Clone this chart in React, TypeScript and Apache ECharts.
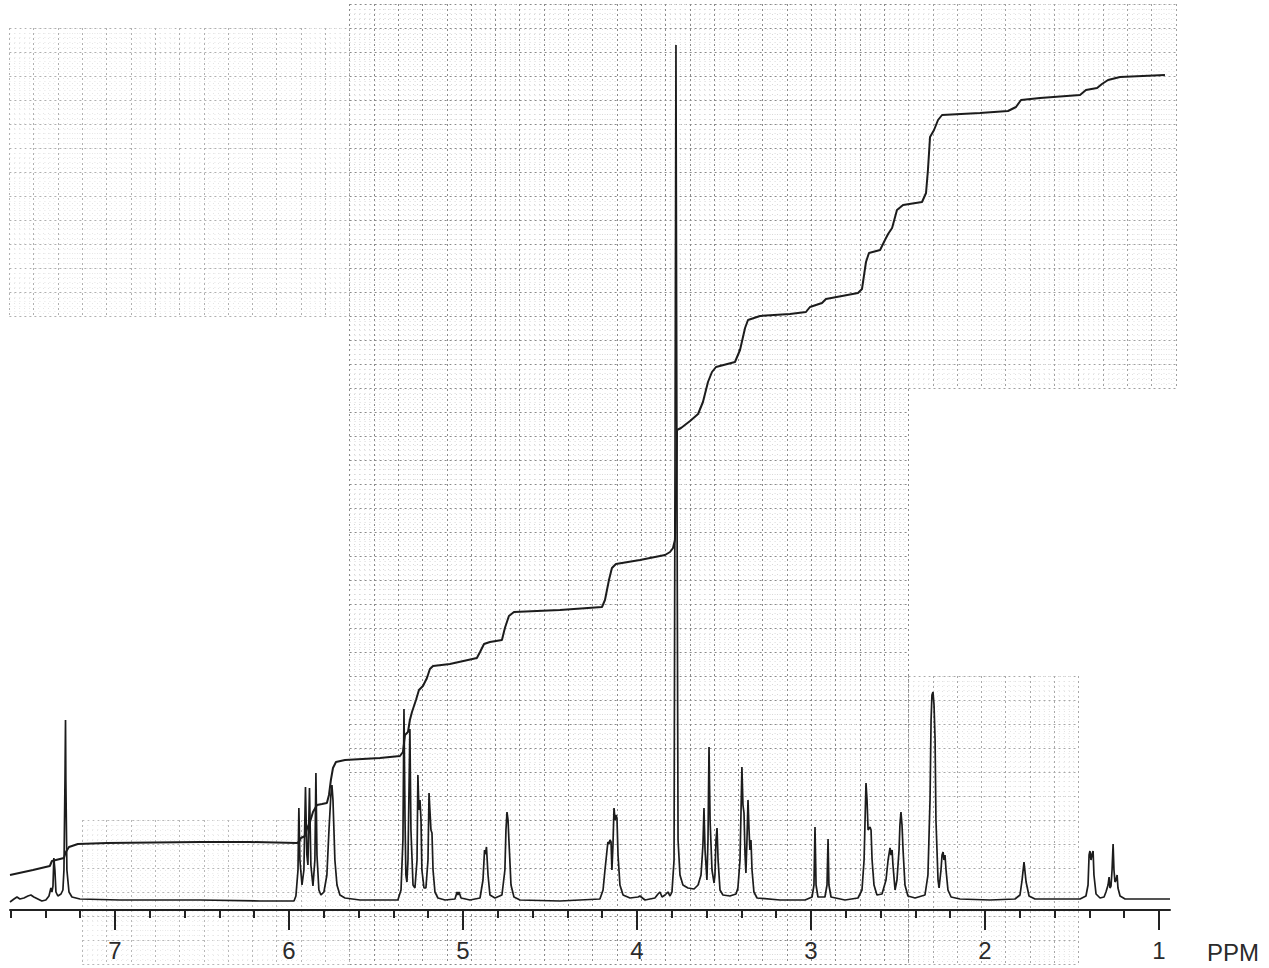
import React, { useEffect, useRef } from "react";
import * as echarts from "echarts";

// Chemical shift range of the recorder chart (ppm, high field on the right)
const PPM_MIN = 0.937;
const PPM_MAX = 7.603;

// Tick positions along the ppm scale
const minorTicks = [7.6, 7.4, 7.2, 7.0, 6.8, 6.6, 6.4, 6.2, 6.0, 5.8, 5.6, 5.4, 5.2, 5.0, 4.8, 4.6, 4.4, 4.2, 4.0, 3.8, 3.6, 3.4, 3.2, 3.0, 2.8, 2.6, 2.4, 2.2, 2.0, 1.8, 1.6, 1.4, 1.2, 1.0];
const majorTicks = [7, 6, 5, 4, 3, 2, 1];

// Spectrum trace, [ppm, intensity], grouped by region
const aromatic = [
  [7.603, -2], [7.58, 1], [7.563, 3], [7.546, 1], [7.523, 2], [7.5, 4], [7.483, 5], [7.466, 3], [7.443, 1],
  [7.42, -1], [7.397, 0], [7.379, 4], [7.368, 12], [7.362, 8], [7.356, 14], [7.351, 42], [7.345, 30],
  [7.339, 8], [7.328, 4], [7.31, 6], [7.299, 10], [7.293, 30], [7.287, 120], [7.284, 180], [7.282, 120],
  [7.276, 30], [7.264, 8], [7.247, 3], [7.201, 1], [6.971, 0], [6.511, 0], [6.167, -1], [5.971, -1],
];
const olefinic = [
  [5.96, 4], [5.948, 30], [5.943, 92], [5.937, 40], [5.925, 15], [5.914, 30], [5.905, 113], [5.897, 45],
  [5.891, 35], [5.882, 112], [5.874, 35], [5.862, 14], [5.851, 40], [5.845, 127], [5.839, 45], [5.828, 10],
  [5.816, 5], [5.799, 8], [5.782, 25], [5.77, 70], [5.759, 105], [5.753, 115], [5.747, 100], [5.736, 40],
  [5.724, 15], [5.707, 5], [5.678, 2], [5.592, 0],
  [5.374, 0], [5.356, 10], [5.345, 60], [5.339, 191], [5.333, 80], [5.328, 25], [5.322, 18], [5.316, 40],
  [5.305, 171], [5.299, 70], [5.287, 15], [5.276, 12], [5.264, 40], [5.259, 125], [5.253, 90], [5.247, 100],
  [5.241, 80], [5.236, 30], [5.224, 12], [5.213, 12], [5.201, 40], [5.195, 107], [5.19, 90], [5.184, 70],
  [5.178, 67], [5.172, 30], [5.161, 8], [5.144, 2], [5.103, 0], [5.046, 1], [5.034, 8], [5.029, 5],
  [5.023, 8], [5.011, 2], [4.96, 0],
];
const midField = [
  [4.902, 2], [4.885, 20], [4.876, 50], [4.871, 46], [4.865, 53], [4.856, 25], [4.845, 5], [4.816, 2],
  [4.776, 5], [4.759, 30], [4.753, 70], [4.747, 88], [4.741, 80], [4.736, 60], [4.724, 15], [4.707, 3],
  [4.672, 0], [4.443, -1],
  [4.213, 1], [4.195, 10], [4.184, 30], [4.172, 50], [4.167, 58], [4.161, 56], [4.155, 60], [4.149, 58],
  [4.144, 30], [4.138, 55], [4.132, 92], [4.126, 80], [4.121, 85], [4.115, 82], [4.109, 45], [4.098, 15],
  [4.08, 5], [4.04, 2], [3.994, 3], [3.983, 4], [3.954, 0], [3.897, 2], [3.879, 6], [3.868, 8], [3.856, 3],
  [3.839, 5], [3.822, 8], [3.81, 4], [3.799, 8], [3.787, 40], [3.782, 400], [3.776, 855], [3.77, 400],
  [3.764, 60], [3.753, 25], [3.736, 15], [3.707, 12], [3.672, 11],
  [3.649, 15], [3.632, 25], [3.621, 55], [3.615, 92], [3.609, 50], [3.598, 20], [3.592, 60], [3.586, 153],
  [3.58, 80], [3.569, 30], [3.557, 17], [3.552, 25], [3.546, 60], [3.54, 72], [3.534, 40], [3.523, 10],
  [3.506, 5], [3.466, 4], [3.431, 6], [3.42, 12], [3.408, 40], [3.402, 90], [3.397, 133], [3.391, 95],
  [3.385, 87], [3.379, 45], [3.374, 27], [3.368, 60], [3.362, 100], [3.356, 70], [3.351, 50], [3.345, 60],
  [3.339, 30], [3.328, 8], [3.31, 2], [3.178, 0],
];
const highField = [
  [3.034, 0], [2.994, 3], [2.983, 15], [2.977, 73], [2.971, 15], [2.96, 3], [2.92, 3], [2.908, 15],
  [2.902, 61], [2.897, 15], [2.885, 3], [2.805, 0], [2.73, 2], [2.707, 10], [2.695, 40], [2.684, 117],
  [2.678, 100], [2.672, 70], [2.661, 73], [2.655, 70], [2.649, 40], [2.638, 15], [2.621, 5], [2.592, 6],
  [2.569, 20], [2.557, 40], [2.546, 52], [2.54, 45], [2.534, 50], [2.529, 35], [2.517, 10], [2.506, 20],
  [2.494, 50], [2.489, 75], [2.483, 88], [2.477, 75], [2.471, 50], [2.46, 15], [2.443, 4], [2.402, 2],
  [2.345, 5], [2.328, 25], [2.316, 100], [2.31, 180], [2.305, 205], [2.299, 208], [2.293, 195], [2.287, 160],
  [2.282, 80], [2.27, 20], [2.264, 12], [2.253, 30], [2.247, 45], [2.241, 48], [2.236, 40], [2.23, 45],
  [2.224, 30], [2.213, 10], [2.195, 3], [2.144, 1],
  [1.971, 0], [1.828, 1], [1.799, 5], [1.787, 20], [1.776, 38], [1.764, 18], [1.747, 4], [1.713, 1],
  [1.454, 1], [1.42, 4], [1.408, 15], [1.402, 45], [1.397, 49], [1.391, 40], [1.385, 46], [1.379, 49],
  [1.374, 25], [1.362, 6], [1.339, 2], [1.316, 3], [1.305, 8], [1.293, 15], [1.287, 23], [1.282, 12],
  [1.276, 14], [1.27, 30], [1.264, 56], [1.259, 30], [1.253, 18], [1.247, 20], [1.241, 25], [1.236, 12],
  [1.224, 4], [1.195, 1], [0.937, 1],
];

// Integral trace, [ppm, height]
const integral = [
  [7.603, 25], [7.471, 30], [7.374, 34], [7.362, 39], [7.293, 42], [7.282, 48], [7.264, 53], [7.213, 56],
  [7.046, 57], [6.511, 58], [6.224, 58], [5.954, 57], [5.943, 58], [5.931, 62], [5.908, 64], [5.897, 71],
  [5.879, 78], [5.862, 88], [5.839, 95], [5.81, 96], [5.782, 97], [5.77, 105], [5.759, 120], [5.747, 132],
  [5.73, 138], [5.678, 140], [5.477, 142], [5.362, 144], [5.345, 148], [5.333, 165], [5.316, 168],
  [5.305, 180], [5.293, 188], [5.27, 200], [5.253, 210], [5.23, 214], [5.207, 222], [5.19, 231],
  [5.172, 234], [5.075, 236], [4.92, 242], [4.902, 248], [4.879, 256], [4.845, 258], [4.776, 260],
  [4.759, 272], [4.736, 284], [4.707, 288], [4.443, 290], [4.201, 293], [4.184, 300], [4.161, 320],
  [4.144, 332], [4.121, 336], [3.983, 340], [3.839, 345], [3.81, 348], [3.793, 352], [3.782, 360],
  [3.776, 400], [3.77, 470], [3.747, 472], [3.695, 479], [3.649, 486], [3.621, 498], [3.592, 518],
  [3.569, 528], [3.546, 533], [3.437, 538], [3.408, 550], [3.379, 572], [3.362, 580], [3.293, 584],
  [3.121, 586], [3.029, 588], [3.006, 593], [2.937, 597], [2.914, 601], [2.73, 607], [2.707, 611],
  [2.684, 638], [2.667, 647], [2.603, 650], [2.575, 660], [2.557, 666], [2.534, 672], [2.506, 690],
  [2.471, 695], [2.362, 698], [2.339, 707], [2.328, 730], [2.316, 763], [2.293, 770], [2.27, 780],
  [2.247, 785], [2.029, 787], [1.868, 789], [1.822, 793], [1.793, 800], [1.684, 802], [1.454, 805],
  [1.42, 810], [1.356, 812], [1.328, 816], [1.293, 820], [1.224, 823], [0.966, 825],
];

const INK = "#1c1c1c";
const CELL_X = 24.3;
const CELL_Y = 24;

// One patch of printed chart-paper ruling, drawn as the split lines of a hidden grid
function paperPatch(index: number, left: number, top: number, cols: number, rows: number, major: string, minor: string) {
  const width = cols * CELL_X;
  const height = rows * CELL_Y;
  const majorLine = { show: true, lineStyle: { type: [2, 3], color: major, width: 1 } };
  const minorLine = { show: true, lineStyle: { type: [1, 4], color: minor, width: 1 } };
  const hidden = { axisLine: { show: false }, axisTick: { show: false }, axisLabel: { show: false } };
  return {
    grid: { left, top, width, height, containLabel: false },
    xAxis: {
      type: "value", gridIndex: index, min: 0, max: width, interval: CELL_X, ...hidden,
      splitLine: majorLine, minorTick: { show: false, splitNumber: 5 }, minorSplitLine: minorLine,
    },
    yAxis: {
      type: "value", gridIndex: index, min: 0, max: height, interval: CELL_Y, ...hidden,
      splitLine: majorLine, minorTick: { show: false, splitNumber: 5 }, minorSplitLine: minorLine,
    },
  };
}

export default function App() {
  const ref = useRef<HTMLDivElement>(null);

  useEffect(() => {
    if (!ref.current) return;
    const chart = echarts.init(ref.current, undefined, { renderer: "svg" });

    const patches = [
      paperPatch(1, 349.6, 4, 23, 40, "#8a8a8a", "#d8d8d8"),
      paperPatch(2, 9.4, 28, 14, 12, "#b0b0b0", "#e6e6e6"),
      paperPatch(3, 82.3, 820, 11, 6, "#b8b8b8", "#e8e8e8"),
      paperPatch(4, 908.5, 4, 11, 16, "#a0a0a0", "#e0e0e0"),
      paperPatch(5, 908.5, 676, 7, 12, "#a8a8a8", "#e2e2e2"),
    ];

    const spectrum = [...aromatic, ...olefinic, ...midField, ...highField];

    const scaleAxis = {
      type: "value" as const,
      gridIndex: 0,
      min: PPM_MIN,
      max: PPM_MAX,
      inverse: true,
      position: "bottom" as const,
      splitLine: { show: false },
    };

    chart.setOption({
      animation: false,
      backgroundColor: "#ffffff",
      grid: [{ left: 10, right: 99, top: 0, bottom: 58, containLabel: false }, ...patches.map((p) => p.grid)],
      xAxis: [
        {
          ...scaleAxis,
          axisLine: { show: true, onZero: false, lineStyle: { color: "#222", width: 2 } },
          axisTick: { show: true, customValues: minorTicks, length: 8, lineStyle: { color: "#222", width: 2 } },
          axisLabel: { show: false },
        },
        {
          ...scaleAxis,
          axisLine: { show: false, onZero: false },
          axisTick: { show: true, customValues: majorTicks, length: 20, lineStyle: { color: "#222", width: 2 } },
          axisLabel: {
            show: true,
            customValues: majorTicks,
            margin: 28,
            fontSize: 24,
            color: "#2b2b2b",
            fontFamily: "Liberation Sans",
            formatter: (v: number) => String(Math.round(v)),
          },
        },
        ...patches.map((p) => p.xAxis),
      ],
      yAxis: [
        { type: "value", gridIndex: 0, min: -10, max: 900, show: false },
        ...patches.map((p) => p.yAxis),
      ],
      graphic: [
        {
          type: "text",
          left: 1207,
          top: 940,
          style: { text: "PPM", fontSize: 24, fill: "#2b2b2b", fontFamily: "Liberation Sans" },
        },
      ],
      series: [
        {
          type: "line",
          xAxisIndex: 0,
          yAxisIndex: 0,
          data: spectrum,
          symbol: "none",
          silent: true,
          lineStyle: { color: INK, width: 1.7 },
          z: 5,
        },
        {
          type: "line",
          xAxisIndex: 0,
          yAxisIndex: 0,
          data: integral,
          symbol: "none",
          silent: true,
          lineStyle: { color: INK, width: 2 },
          z: 5,
        },
      ],
    });

    return () => chart.dispose();
  }, []);

  return (
    <div
      ref={ref}
      style={{ position: "absolute", left: 0, top: 0, width: 1269, height: 968, background: "#fff" }}
    />
  );
}
